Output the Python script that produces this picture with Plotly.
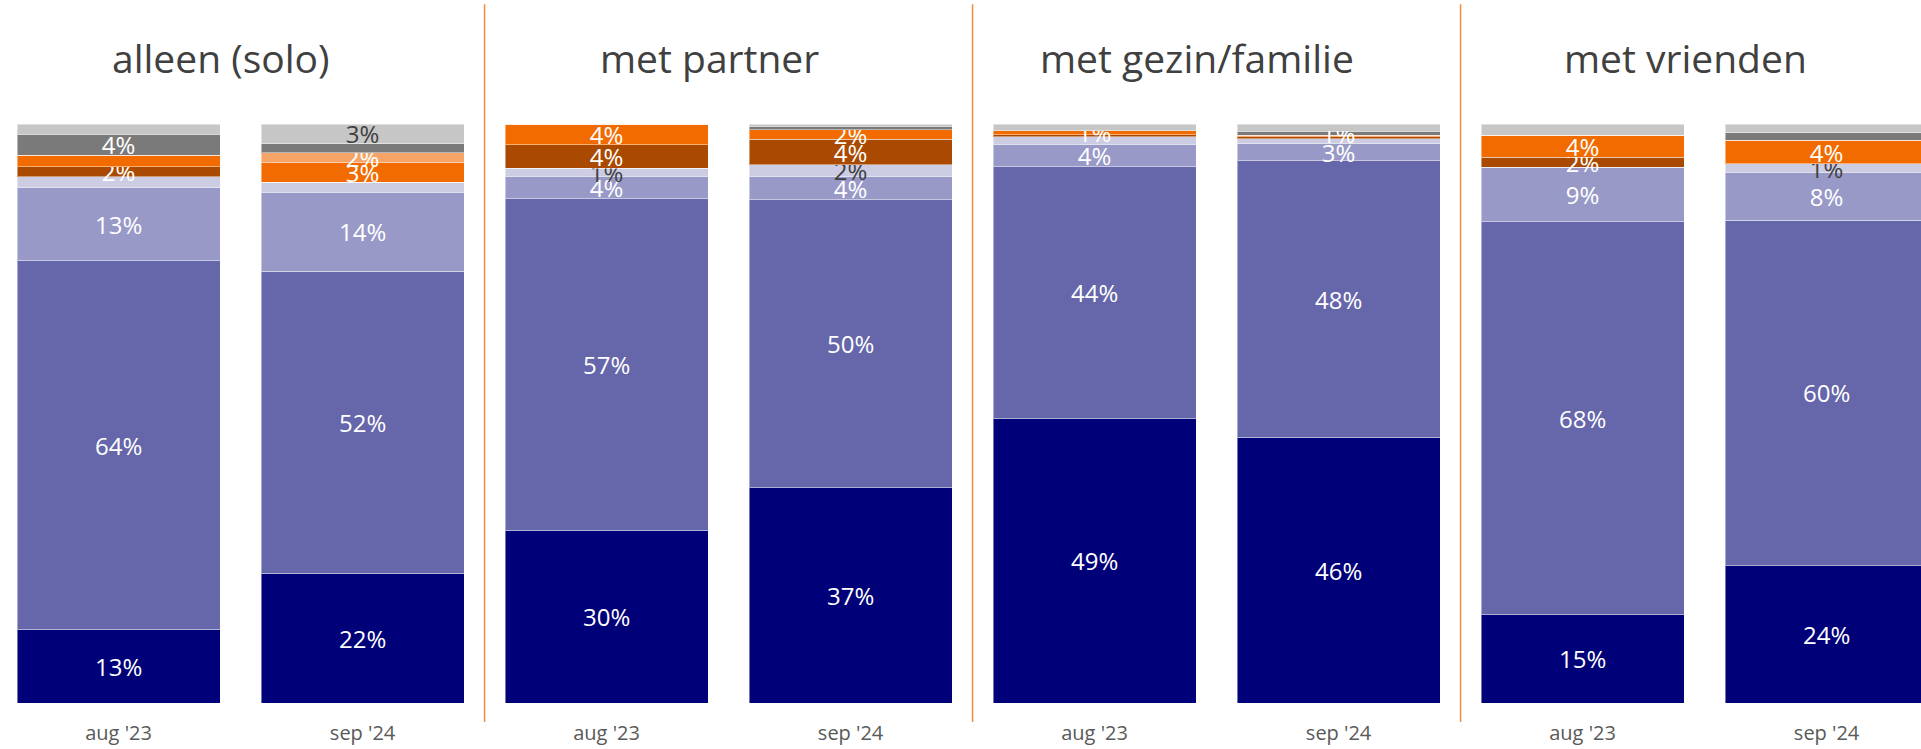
import plotly.graph_objects as go

# Survey groups and the two measurement waves shown per group
groups = ["alleen (solo)", "met partner", "met gezin/familie", "met vrienden"]
waves = ["aug '23", "sep '24"]

# Share per answer category (percent), one value per group/wave bar,
# ordered: solo aug, solo sep, partner aug, partner sep, gezin aug, gezin sep, vrienden aug, vrienden sep
s1 = [12.7, 22.4, 29.8, 37.2, 49.1, 45.9, 15.2, 23.7]
s2 = [63.7, 52.2, 57.3, 49.75, 43.55, 47.75, 67.9, 59.7]
s3 = [12.6, 13.6, 3.9, 3.9, 3.85, 2.9, 9.4, 8.3]
s4 = [1.9, 1.7, 1.4, 2.1, 1.3, 0.9, 0.0, 1.4]
s5 = [1.7, 0.0, 4.0, 4.4, 0.35, 0.35, 1.8, 0.0]
s6 = [2.0, 3.4, 3.6, 1.7, 0.7, 0.23, 3.8, 4.1]
s7 = [0.0, 1.7, 0.0, 0.0, 0.0, 0.0, 0.0, 0.0]
s8 = [3.6, 1.6, 0.0, 0.6, 0.0, 0.7, 0.0, 1.3]
s9 = [1.8, 3.4, 0.0, 0.35, 1.15, 1.27, 1.9, 1.5]

# Which bars carry a data label for each series
lab1 = [1, 1, 1, 1, 1, 1, 1, 1]
lab2 = [1, 1, 1, 1, 1, 1, 1, 1]
lab3 = [1, 1, 1, 1, 1, 1, 1, 1]
lab4 = [0, 0, 1, 1, 0, 0, 0, 1]
lab5 = [1, 0, 1, 1, 0, 0, 1, 0]
lab6 = [0, 1, 1, 1, 1, 0, 1, 1]
lab7 = [0, 1, 0, 0, 0, 0, 0, 0]
lab8 = [1, 0, 0, 0, 0, 1, 0, 0]
lab9 = [0, 1, 0, 0, 0, 0, 0, 0]

series = [
    (s1, lab1, "#000078", "white"),
    (s2, lab2, "#6666AA", "white"),
    (s3, lab3, "#9999C8", "white"),
    (s4, lab4, "#CCCCE3", "#404040"),
    (s5, lab5, "#AA4A00", "white"),
    (s6, lab6, "#F26B00", "white"),
    (s7, lab7, "#F5A366", "white"),
    (s8, lab8, "#7A7A7A", "white"),
    (s9, lab9, "#C6C6C6", "#404040"),
]

FONT = "Open Sans"
n_bars = len(groups) * len(waves)
xpos = list(range(n_bars))
ticktext = [w for _ in groups for w in waves]

fig = go.Figure()
for vals, labs, color, tcolor in series:
    texts = [f"{v:.0f}%" if show else "" for v, show in zip(vals, labs)]
    fig.add_trace(go.Bar(
        x=xpos,
        y=vals,
        width=0.832,
        marker=dict(color=color, line=dict(color="rgba(255,255,255,0.45)", width=1)),
        text=texts,
        textposition="inside",
        insidetextanchor="middle",
        textangle=0,
        constraintext="none",
        cliponaxis=False,
        textfont=dict(family=FONT, size=24, color=tcolor),
        hoverinfo="skip",
        showlegend=False,
    ))

# Group titles above each pair of bars
for i, g in enumerate(groups):
    fig.add_annotation(
        x=2 * i + 0.42, y=1.115, xref="x", yref="paper",
        text=g, showarrow=False,
        font=dict(family=FONT, size=39, color="#404040"),
        xanchor="center", yanchor="middle",
    )

# Vertical dividers between groups
for i in range(1, len(groups)):
    fig.add_shape(
        type="line", xref="x", yref="paper",
        x0=2 * i - 0.5, x1=2 * i - 0.5, y0=-0.033, y1=1.207,
        line=dict(color="#F28C3C", width=1.5),
    )

fig.update_layout(
    barmode="stack",
    width=1921, height=749,
    margin=dict(l=0, r=0, t=124, b=46),
    paper_bgcolor="white",
    plot_bgcolor="white",
    uniformtext=dict(minsize=24, mode="show"),
    xaxis=dict(
        range=[-0.486, 7.387],
        tickvals=xpos, ticktext=ticktext,
        showgrid=False, zeroline=False, showline=False, ticks="",
        ticklabelstandoff=16,
        tickfont=dict(family=FONT, size=20, color="#595959"),
    ),
    yaxis=dict(range=[0, 100], visible=False, showgrid=False, zeroline=False),
)

fig.write_html("out.html")
